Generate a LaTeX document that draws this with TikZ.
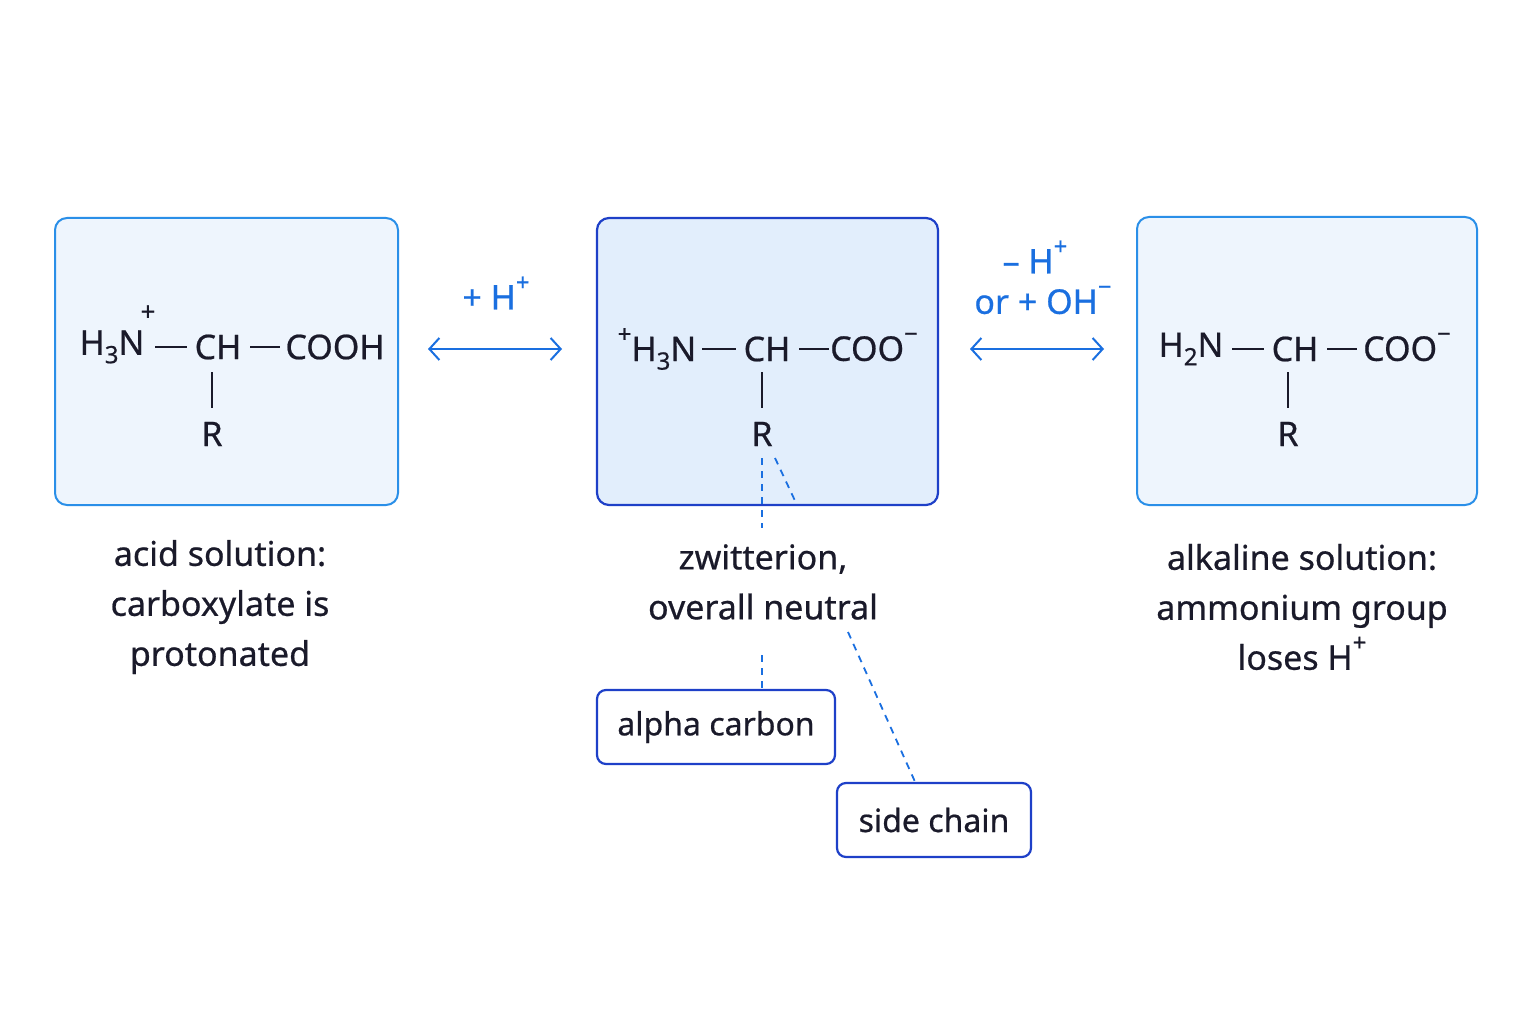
\documentclass[tikz,border=0pt]{standalone}
\usepackage{fontspec}
\setmainfont{Noto Sans}[FakeBold=0.6,AutoFakeBold=0.6]
\usetikzlibrary{arrows.meta}
\definecolor{lb}{HTML}{2A8FE8}
\definecolor{db}{HTML}{1E40C8}
\definecolor{fl}{HTML}{EEF5FD}
\definecolor{fm}{HTML}{E2EEFC}
\definecolor{tx}{HTML}{1A1A2A}
\definecolor{ab}{HTML}{1A6FE0}
\newcommand{\sbs}[1]{\raisebox{-0.25em}{\fontsize{24}{24}\selectfont #1}}
\newcommand{\sps}[1]{\raisebox{0.55em}{\fontsize{24}{24}\selectfont #1}}
\begin{document}
\begin{tikzpicture}[x=1pt,y=-1pt,
  box/.style={draw=lb,line width=2pt,fill=fl,rounded corners=12pt},
  mbox/.style={draw=db,line width=2.2pt,fill=fm,rounded corners=12pt},
  chem/.style={font=\fontsize{34}{40}\selectfont,text=tx,inner sep=0pt},
  captxt/.style={font=\fontsize{34}{50}\selectfont,text=tx,align=center},
  bond/.style={line width=2pt,tx},
  lab/.style={draw=db,line width=2.2pt,fill=white,rounded corners=9pt,font=\fontsize{32}{38}\selectfont,text=tx,minimum height=74pt,inner xsep=10pt},
  arr/.style={ab,line width=2pt,{Straight Barb[length=10pt,width=22pt]}-{Straight Barb[length=10pt,width=22pt]}},
  dsh/.style={ab,line width=1.8pt,dash pattern=on 7pt off 6pt},
  alab/.style={text=ab,font=\fontsize{34}{40}\selectfont}]
\useasboundingbox (0,0) rectangle (1536,1024);
\fill[white] (0,0) rectangle (1536,1024);
\node[box,minimum width=343pt,minimum height=287pt] (b1) at (226.5,361.5) {};
\node[mbox,minimum width=341pt,minimum height=287pt] (b2) at (767.5,361.5) {};
\node[box,minimum width=340pt,minimum height=288pt] (b3) at (1307,361) {};
% left
\node[chem] (l1) at (112,347) {H\sbs{3}N};
\node[chem,font=\fontsize{26}{30}\selectfont] (lp) at (148,313) {+};
\node[chem] (l2) at (218,347) {CH};
\node[chem] (l3) at (335,347) {COOH};
\node[chem] (lr) at (212,434) {R};
\draw[bond] (155,347)--(187,347); \draw[bond] (250,347)--(280,347);
\draw[bond] (212,372)--(212,408);
% mid
\node[chem] (m1) at (657,349) {\sps{+}H\sbs{3}N};
\node[chem] (m2) at (767,349) {CH};
\node[chem] (m3) at (874,347) {COO\sps{−}};
\node[chem] (mr) at (762,434) {R};
\draw[bond] (702,349)--(736,349); \draw[bond] (799,349)--(829,349);
\draw[bond] (762,372)--(762,408);
% right
\node[chem] (r1) at (1191,349) {H\sbs{2}N};
\node[chem] (r2) at (1295,349) {CH};
\node[chem] (r3) at (1407,347) {COO\sps{−}};
\node[chem] (rr) at (1288,434) {R};
\draw[bond] (1232,349)--(1264,349); \draw[bond] (1327,349)--(1357,349);
\draw[bond] (1288,372)--(1288,408);
% arrows
\coordinate (a1) at (428,349); \coordinate (a2) at (562,349);
\coordinate (a3) at (970,349); \coordinate (a4) at (1104,349);
\draw[arr] (a1)--(a2); \draw[arr] (a3)--(a4);
\node[alab] (t1) at (496,293) {+ H\sps{+}};
\node[alab] (t2) at (1035,257) {– H\sps{+}};
\node[alab] (t3) at (1043,300) {or + OH\sps{−}};
% captions
\node[captxt] (c1) at (220,607) {acid solution:\\carboxylate is\\protonated};
\node[captxt] (c2) at (763,582) {zwitterion,\\overall neutral};
\node[captxt] (c3) at (1302,607) {alkaline solution:\\ammonium group\\loses H\sps{+}};
% labels
\node[lab,minimum width=238pt] (la) at (716,727) {alpha carbon};
\node[lab,minimum width=194pt] (ls) at (934,820) {side chain};
\coordinate (d1) at (762,690);
\coordinate (d2) at (916,784);
\draw[dsh] (762,458)--(762,528);
\draw[dsh] (762,655)--(d1);
\draw[dsh] (775,458)--(797,505);
\draw[dsh] (848,632)--(d2);
\end{tikzpicture}
\end{document}
